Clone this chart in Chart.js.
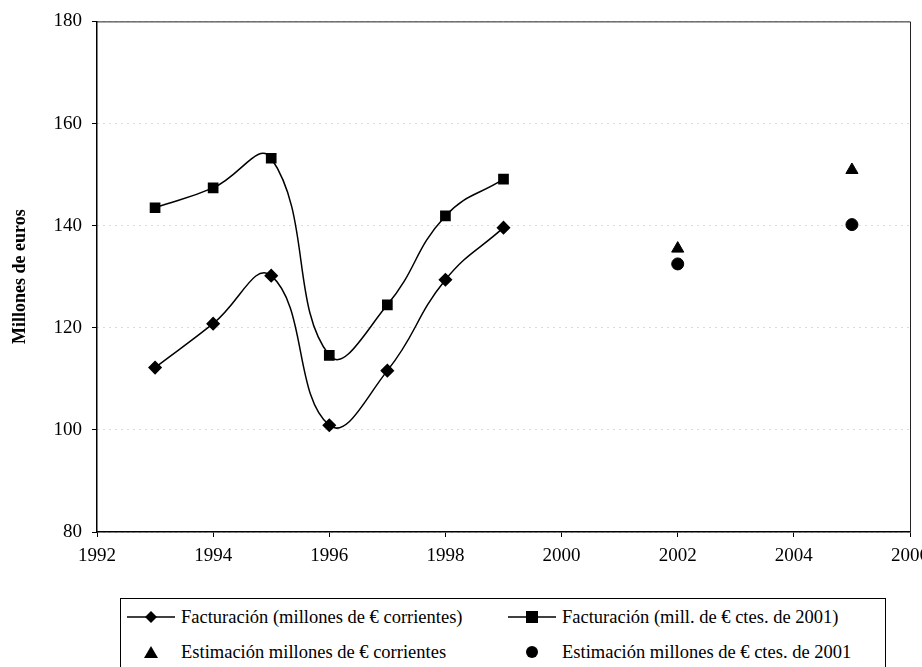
<!DOCTYPE html>
<html>
<head>
<meta charset="utf-8">
<script src="https://cdn.jsdelivr.net/npm/chart.js@4.4.0/dist/chart.umd.min.js"></script>
<style>
  html, body { margin: 0; padding: 0; background: #fff; overflow: hidden; width: 922px; height: 667px; }
  #wrap { position: absolute; left: 0; top: 0; width: 937px; height: 580px; }
  #legend {
    position: absolute; left: 120px; top: 598px; width: 766px; height: 80px;
    border: 1px solid #000; box-sizing: border-box;
    font-family: "Liberation Serif", "Times New Roman", serif; font-size: 18.5px; color: #000;
  }
  .item { position: absolute; display: flex; align-items: center; height: 22px; }
  .item svg { margin-right: 6px; }
</style>
</head>
<body>
<div id="wrap"><canvas id="chart"></canvas></div>
<div id="legend">
  <div class="item" style="left:6px; top:7px;">
    <svg width="48" height="14"><line x1="0" y1="7" x2="48" y2="7" stroke="#000" stroke-width="1.5"/><polygon points="24,1 30,7 24,13 18,7" fill="#000"/></svg>
    <span>Facturación (millones de € corrientes)</span>
  </div>
  <div class="item" style="left:387px; top:7px;">
    <svg width="48" height="14"><line x1="0" y1="7" x2="48" y2="7" stroke="#000" stroke-width="1.5"/><rect x="18" y="1" width="12" height="12" fill="#000"/></svg>
    <span>Facturación (mill. de € ctes. de 2001)</span>
  </div>
  <div class="item" style="left:6px; top:42px;">
    <svg width="48" height="14"><polygon points="24,1 31,13 17,13" fill="#000"/></svg>
    <span>Estimación millones de € corrientes</span>
  </div>
  <div class="item" style="left:387px; top:42px;">
    <svg width="48" height="14"><circle cx="24" cy="7" r="6" fill="#000"/></svg>
    <span>Estimación millones de € ctes. de 2001</span>
  </div>
</div>
<script>
// Data
const years = [1993, 1994, 1995, 1996, 1997, 1998, 1999];
const factCorrientes = [112.2, 120.8, 130.2, 100.9, 111.6, 129.4, 139.6];
const factConstantes = [143.5, 147.4, 153.2, 114.6, 124.5, 141.9, 149.1];
const estYears = [2002, 2005];
const estCorrientes = [135.5, 150.9];
const estConstantes = [132.5, 140.2];

const xMin = 1992, xMax = 2006, xStep = 2;
const yMin = 80, yMax = 180, yStep = 20;

const toPoints = (xs, ys) => xs.map((x, i) => ({ x: x, y: ys[i] }));

const FONT = '"Liberation Serif", "Times New Roman", serif';

// frame on top and right of the plot area
const frame = {
  id: 'frame',
  afterDraw(chart) {
    const { ctx, chartArea: a } = chart;
    ctx.save();
    ctx.strokeStyle = '#222';
    ctx.lineWidth = 1;
    ctx.beginPath();
    ctx.moveTo(a.left, a.top + 0.5);
    ctx.lineTo(a.right + 0.5, a.top + 0.5);
    ctx.lineTo(a.right + 0.5, a.bottom);
    ctx.stroke();
    ctx.restore();
  }
};

new Chart(document.getElementById('chart'), {
  type: 'line',
  data: {
    datasets: [
      {
        label: 'Facturación (millones de € corrientes)',
        data: toPoints(years, factCorrientes),
        borderColor: '#000', borderWidth: 1.5,
        pointStyle: 'rectRot', pointRadius: 6,
        pointBackgroundColor: '#000', pointBorderColor: '#000',
        tension: 0.45
      },
      {
        label: 'Facturación (mill. de € ctes. de 2001)',
        data: toPoints(years, factConstantes),
        borderColor: '#000', borderWidth: 1.5,
        pointStyle: 'rect', pointRadius: 6.5,
        pointBackgroundColor: '#000', pointBorderColor: '#000',
        tension: 0.45
      },
      {
        label: 'Estimación millones de € corrientes',
        data: toPoints(estYears, estCorrientes),
        showLine: false,
        pointStyle: 'triangle', pointRadius: 7,
        pointBackgroundColor: '#000', pointBorderColor: '#000'
      },
      {
        label: 'Estimación millones de € ctes. de 2001',
        data: toPoints(estYears, estConstantes),
        showLine: false,
        pointStyle: 'circle', pointRadius: 6,
        pointBackgroundColor: '#000', pointBorderColor: '#000'
      }
    ]
  },
  options: {
    responsive: true,
    maintainAspectRatio: false,
    animation: false,
    layout: { padding: { top: 20, left: 0, right: 0, bottom: 0 } },
    plugins: { legend: { display: false }, tooltip: { enabled: false } },
    scales: {
      x: {
        type: 'linear', min: xMin, max: xMax,
        ticks: { stepSize: xStep, color: '#000', font: { family: FONT, size: 19 }, padding: 8,
                 callback: v => String(v) },
        grid: { drawOnChartArea: false, tickLength: 5, tickColor: '#000' },
        border: { color: '#000', width: 1.5 },
        afterFit: s => { s.height = 48; }
      },
      y: {
        min: yMin, max: yMax,
        ticks: { stepSize: yStep, color: '#000', font: { family: FONT, size: 19 }, padding: 10 },
        grid: { color: '#b5b5b5', lineWidth: 1, tickLength: 5, tickColor: '#000', tickBorderDash: [] },
        border: { color: '#000', width: 1.5, dash: [1, 5] },
        title: { display: true, text: 'Millones de euros', color: '#000',
                 font: { family: FONT, size: 18, weight: 'bold' }, padding: { top: 10, bottom: 6 } },
        afterFit: s => { s.width = 97; }
      }
    }
  },
  plugins: [frame]
});
</script>
</body>
</html>
